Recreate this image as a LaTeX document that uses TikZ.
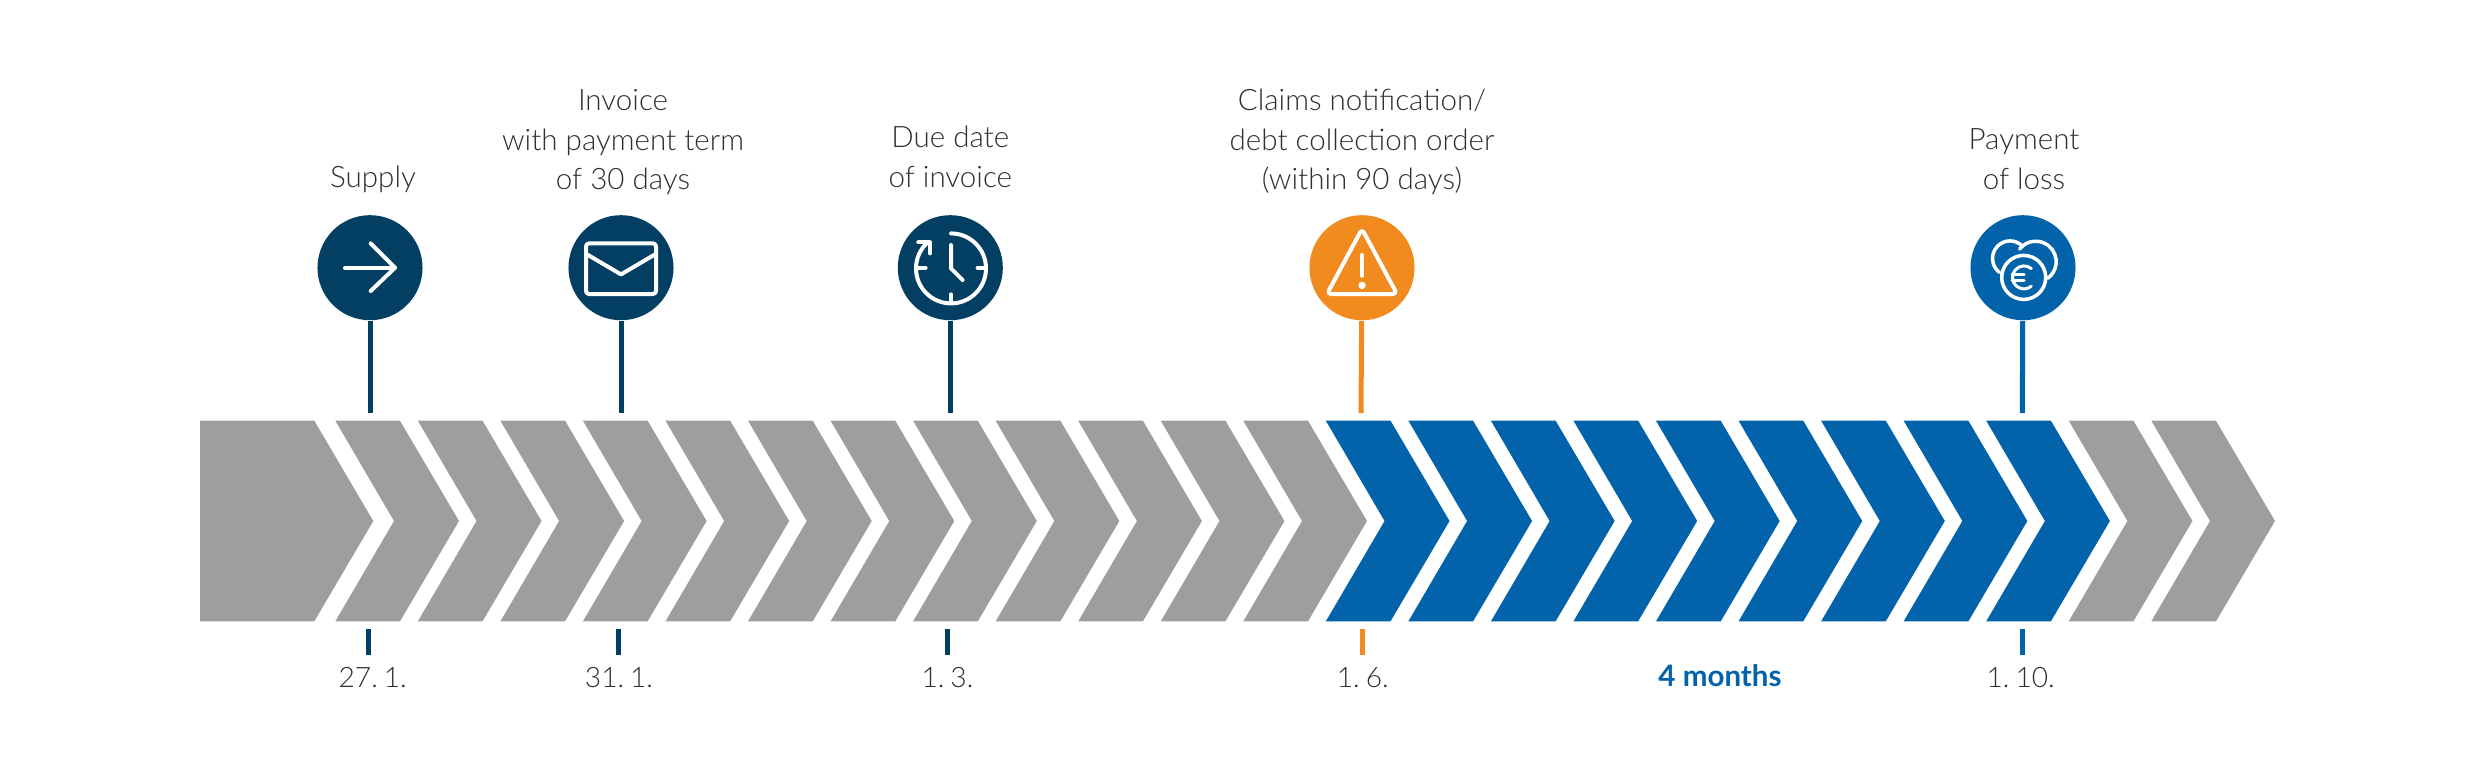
\documentclass[tikz,border=0pt]{standalone}
\usepackage{fontspec}
\setmainfont{Lato}[UprightFont={* Light},BoldFont={* Bold}]
\newfontfamily\datfont{Lato}[UprightFont={* Light},WordSpace=0.45]
\usetikzlibrary{positioning}

\definecolor{navy}{HTML}{023F63}
\definecolor{amber}{HTML}{F18A1F}
\definecolor{azure}{HTML}{0263AB}
\definecolor{ash}{HTML}{9D9E9F}
\definecolor{ink}{HTML}{2E2E2E}

\tikzset{
  main/.style = {circle, inner sep=0pt, minimum size=1.05cm},
  lab/.style = {align=center, inner sep=0pt, text depth=0pt, text=ink, font=\fontsize{8.4}{11.2}\selectfont},
  dat/.style = {inner sep=0pt, text height=0.19cm, text depth=0pt, text=ink, font=\datfont\fontsize{8}{11.2}\selectfont},
  stem/.style = {line width=0.05cm},
  ico/.style = {draw=white, line width=0.04cm, line cap=round, line join=round},
}

\begin{document}
\begin{tikzpicture}[x=0.01cm,y=0.01cm]
  \useasboundingbox (0,0) rectangle (2480,-775);

  % bar
  \fill[ash] (200,-420.7) -- (314.3,-420.7) -- (373.3,-521) -- (314.3,-621.3) -- (200,-621.3) -- cycle;
  \foreach \i in {0,...,22} {
    \pgfmathsetmacro{\xa}{335.3+82.545*\i}
    \pgfmathsetmacro{\colr}{(\i>=12 && \i<=20) ? "azure" : "ash"}
    \fill[\colr] (\xa,-420.7) -- ++(64.7,0) -- ++(59,-100.3) -- ++(-59,-100.3) -- ++(-64.7,0) -- ++(58.7,100.3) -- cycle;
  }

  % markers
  \node[main,fill=navy] (sup) at (370,-267.7) {};
  \node[main,fill=navy] (inv) at (621,-267.7) {};
  \node[main,fill=navy] (due) at (950.3,-267.7) {};
  \node[main,fill=amber] (clm) at (1362,-267.7) {};
  \node[main,fill=azure] (pay) at (2023,-267.7) {};

  \node[lab] (lsup) [above=0.265cm of sup,xshift=0.03cm] {Supply};
  \node[lab] (linv) [above=0.24cm of inv,xshift=0.02cm] {Invoice\\with payment term\\of 30 days};
  \node[lab] (ldue) [above=0.265cm of due] {Due date\\of invoice};
  \node[lab] (lclm) [above=0.24cm of clm] {Claims notification/\\debt collection order\\(within 90 days)};
  \node[lab] (lpay) [above=0.245cm of pay,xshift=0.01cm] {Payment\\of loss};

  % stems
  \coordinate (esup) at (370,-413);
  \coordinate (einv) at (621,-413);
  \coordinate (edue) at (950.3,-413);
  \coordinate (eclm) at (1361,-413);
  \coordinate (epay) at (2022.3,-413);
  \draw[stem,navy] (sup) -- (esup);
  \draw[stem,navy] (inv) -- (einv);
  \draw[stem,navy] (due) -- (edue);
  \draw[stem,amber] (clm) -- (eclm);
  \draw[stem,azure] (pay) -- (epay);

  % ticks
  \coordinate (asup) at (368,-629.3);
  \coordinate (bsup) at (368,-654.7);
  \coordinate (ainv) at (618,-629.3);
  \coordinate (binv) at (618,-654.7);
  \coordinate (adue) at (947.5,-629.3);
  \coordinate (bdue) at (947.5,-654.7);
  \coordinate (aclm) at (1362.8,-629.3);
  \coordinate (bclm) at (1362.8,-654.7);
  \coordinate (apay) at (2022.3,-629.3);
  \coordinate (bpay) at (2022.3,-654.7);
  \draw[stem,navy] (asup) -- (bsup);
  \draw[stem,navy] (ainv) -- (binv);
  \draw[stem,navy] (adue) -- (bdue);
  \draw[stem,amber] (aclm) -- (bclm);
  \draw[stem,azure] (apay) -- (bpay);

  \node[dat] (dsup) [below=0.13cm of bsup,xshift=0.047cm] {27. 1.};
  \node[dat] (dinv) [below=0.13cm of binv,xshift=0.01cm] {31. 1.};
  \node[dat] (ddue) [below=0.13cm of bdue] {1. 3.};
  \node[dat] (dclm) [below=0.13cm of bclm] {1. 6.};
  \node[dat] (dpay) [below=0.13cm of bpay,xshift=-0.016cm] {1. 10.};
  \node[dat,text=azure,font=\rmfamily\fontsize{8.4}{11.2}\selectfont\bfseries] (dmon) at (1720,-677) {4 months};

  % arrow icon
  \begin{scope}[shift={(sup.center)}]
    \draw[ico] (-25,0) -- (25,0);
    \draw[ico] (0.7,24.3) -- (25,0) -- (0.7,-23.3);
  \end{scope}

  % envelope icon
  \begin{scope}[shift={(inv.center)}]
    \draw[ico,rounded corners=0.03cm] (-35,24.3) rectangle (35,-26.3);
    \draw[ico] (-33,12.7) -- (0,-6.7) -- (33,12.7);
  \end{scope}

  % clock icon
  \begin{scope}[shift={(due.center)}]
    \draw[ico] (0.7,34.3) arc[start angle=90,end angle=-229,radius=35];
    \draw[ico] (-32,25.3) -- (-20.3,25.3) -- (-20.3,14.3);
    \draw[ico] (0.7,22.7) -- (0.7,-0.7) -- (12.3,-12.3);
    \draw[ico] (-33,0) -- (-24.7,0);
    \draw[ico] (27.3,0) -- (35,0);
    \draw[ico] (0.7,-26.7) -- (0.7,-35);
  \end{scope}

  % warning icon
  \begin{scope}[shift={(clm.center)}]
    \draw[ico,rounded corners=0.04cm] (0,38.8) -- (-35,-26.3) -- (35,-26.3) -- cycle;
    \draw[ico] (0,12.7) -- (0,-8);
    \fill[white] (0,-17.7) circle (3.7);
  \end{scope}

  % coins icon
  \begin{scope}[shift={(pay.center)}]
    \draw[ico,line width=0.035cm] (0.7,-9.7) circle (22);
    \draw[ico,line width=0.035cm] (-13,9.3) ++(45:17.5) arc[start angle=45,end angle=233,radius=17.5];
    \draw[ico,line width=0.035cm] (12.7,6) ++(142:20.5) arc[start angle=142,end angle=-54,radius=20.5];
    \draw[ico,line width=0.03cm] (1,-9.7) ++(50:11.5) arc[start angle=50,end angle=310,radius=11.5];
    \draw[ico,line width=0.03cm] (-11,-6.7) -- (1,-6.7);
    \draw[ico,line width=0.03cm] (-11,-12.7) -- (1,-12.7);
  \end{scope}
\end{tikzpicture}
\end{document}
